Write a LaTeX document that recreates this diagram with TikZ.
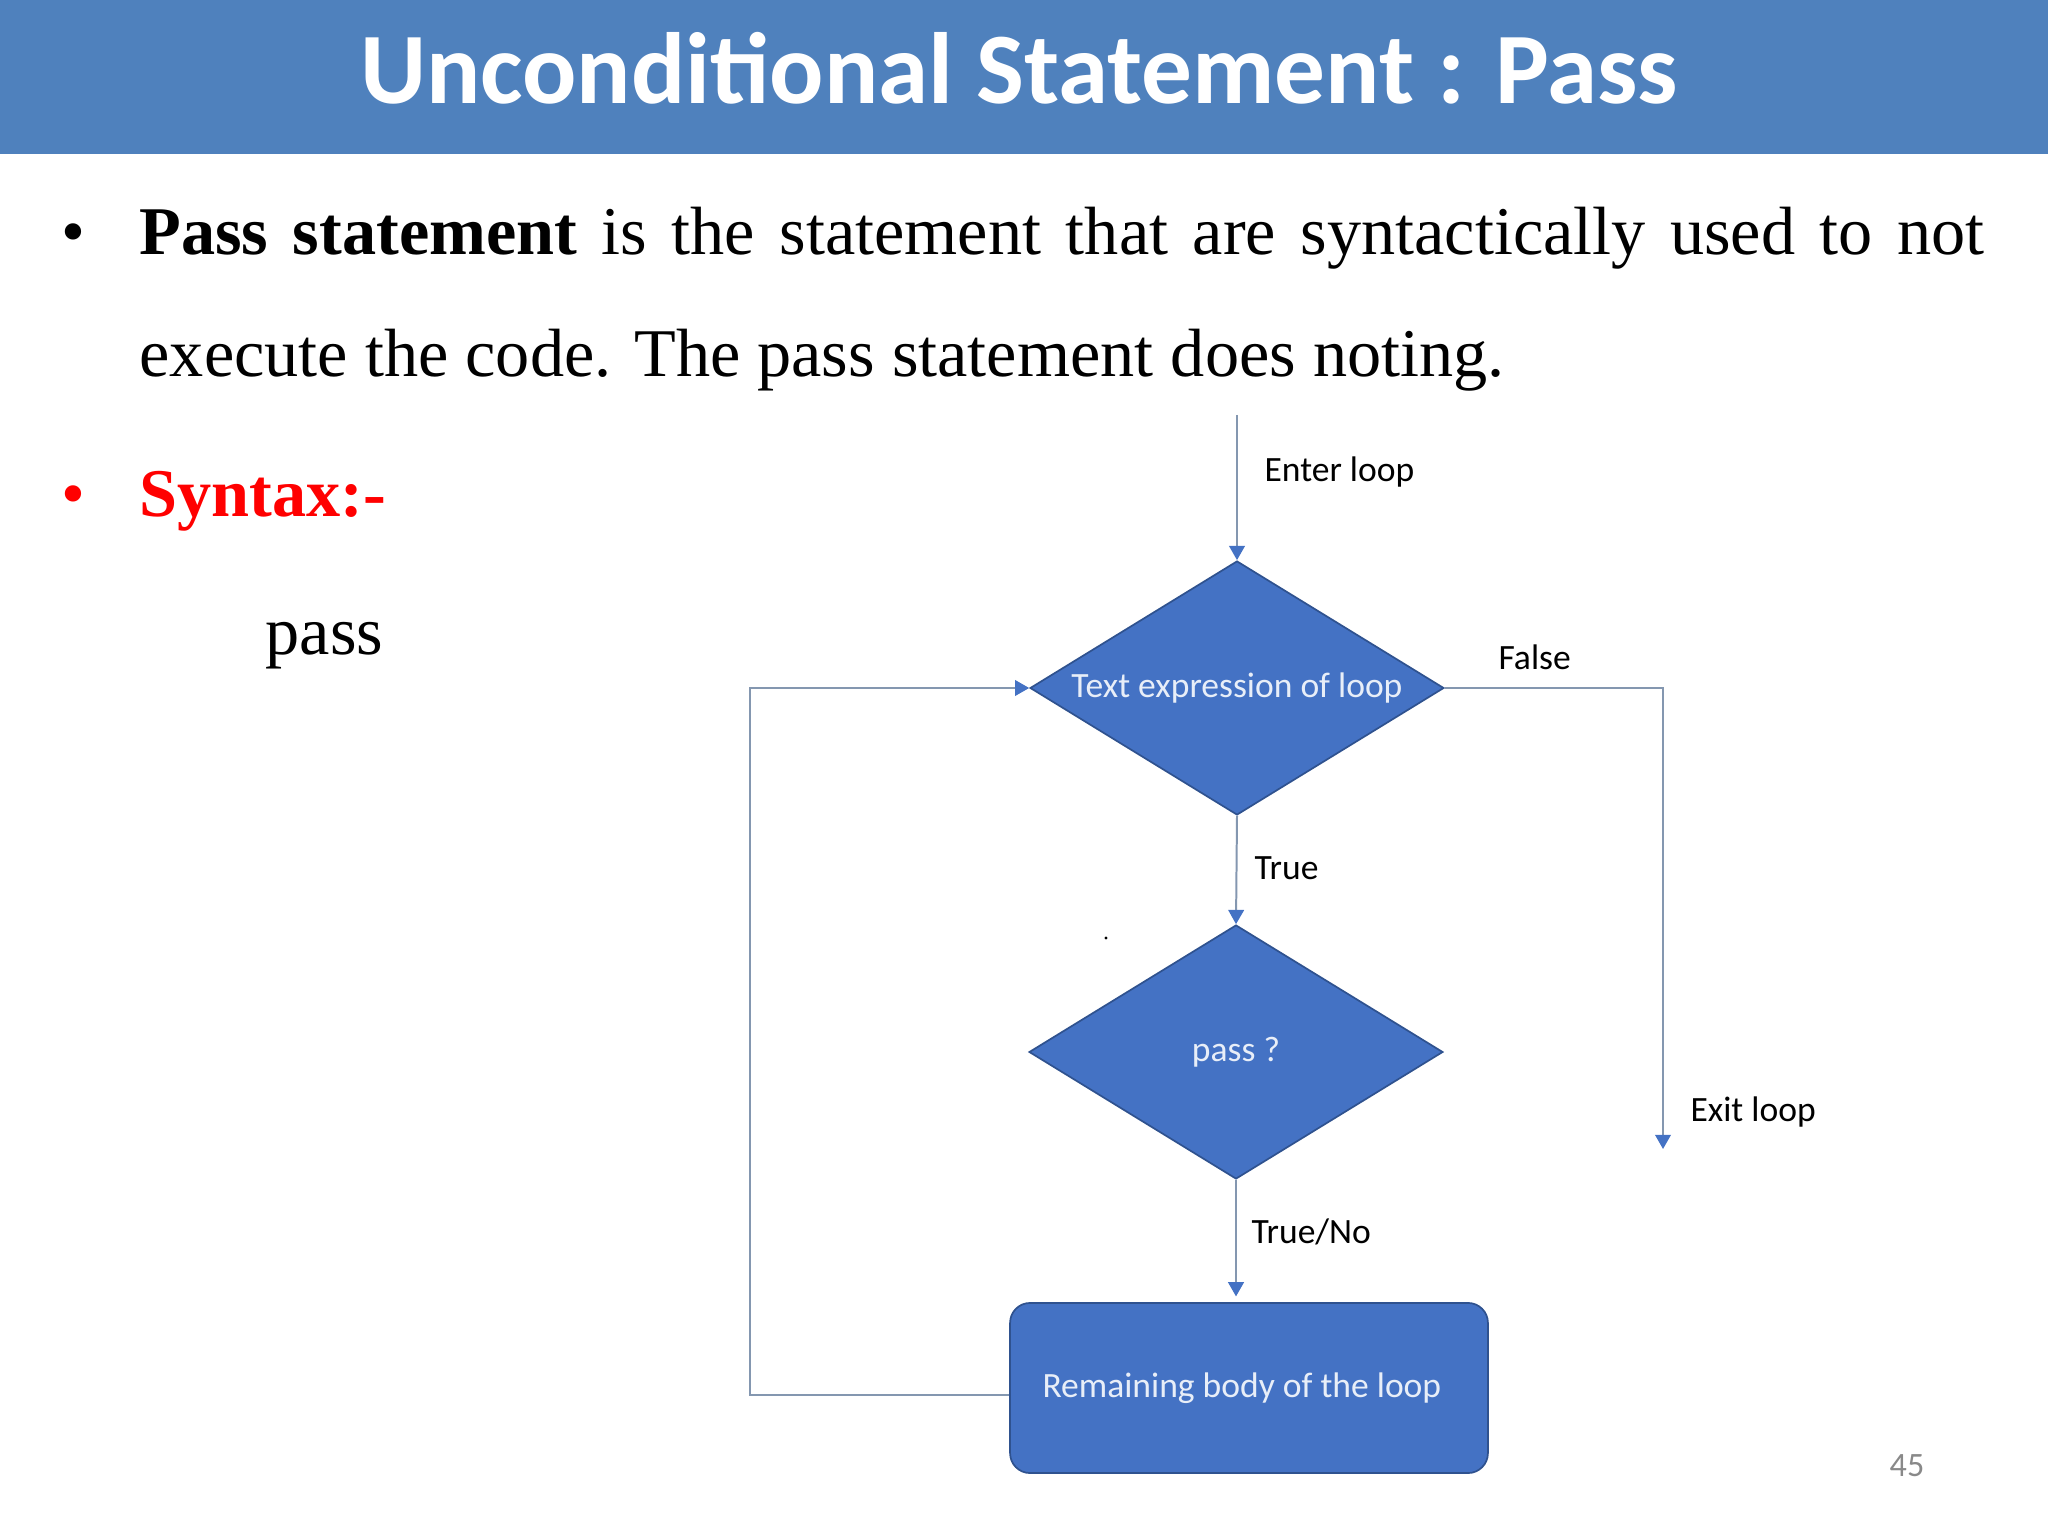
\documentclass[tikz,border=0pt]{standalone}
\usepackage{fontspec}
\setmainfont{Liberation Serif}
\newfontfamily\calibri{Carlito}
\usetikzlibrary{shapes.geometric,arrows.meta,positioning,calc}
\definecolor{slideBlue}{RGB}{79,129,189}
\definecolor{boxBlue}{RGB}{68,114,196}
\definecolor{boxEdge}{RGB}{47,82,143}
\definecolor{lineGray}{RGB}{132,151,176}
\definecolor{boxText}{RGB}{232,238,248}
\definecolor{pageGray}{RGB}{137,137,137}
\definecolor{syntaxRed}{RGB}{255,0,0}

\begin{document}
\begin{tikzpicture}[x=0.3515625pt, y=-0.3515625pt,
    txt/.style={inner sep=0pt, anchor=base west, font=\fontsize{24}{29}\selectfont},
    lbl/.style={inner sep=0pt, anchor=base west, font=\calibri\fontsize{12.5}{15}\selectfont},
    decision/.style={diamond, aspect=1.63, draw=boxEdge, fill=boxBlue, line width=0.6pt,
      minimum width=145.5pt, minimum height=89.3pt, inner sep=0pt, text=boxText,
      font=\calibri\fontsize{12.5}{15}\selectfont},
    process/.style={rectangle, rounded corners=7pt, draw=boxEdge, fill=boxBlue, line width=0.6pt,
      minimum width=168pt, minimum height=59.8pt, text=boxText,
      font=\calibri\fontsize{12.5}{15}\selectfont},
    flow/.style={draw=lineGray, line width=0.7pt, -{Triangle[length=5pt,width=5.5pt,color=boxBlue]}}
  ]
  \useasboundingbox (0,0) rectangle (2048,1536);
  % title band
  \fill[slideBlue] (0,0) rectangle (2048,154);
  \node[inner sep=0pt, anchor=base, text=white, font=\calibri\bfseries\fontsize{35.6}{42}\selectfont]
    (title) at (1019,104) {Unconditional Statement : Pass};

  % bullet text
  \node[txt, anchor=base] (dot1) at (73,255) {\textbullet};
  \node[txt] (line1) at (139,255)
    {\makebox[648.6pt][s]{\textbf{Pass statement} is the statement that are syntactically used to not}};
  \node[txt] (line2) at (139,377) {execute the code. The pass statement does noting.};
  \node[txt, anchor=base, text=syntaxRed] (dot2) at (73,517) {\textbullet};
  \node[txt, text=syntaxRed] (syntax) at (139,517) {\textbf{Syntax:-}};
  \node[txt] (code) at (265,655) {pass};

  % flowchart
  \node[decision] (test) at (1237,688) {Text expression of loop};
  \node[decision] (pass) at (1236,1052) {pass ?};
  \node[process] (body) at (1249,1388) {\hspace*{-5pt}Remaining body of the loop};
  \coordinate (enter) at (1237,415);
  \coordinate (exit) at (1663,1149);

  \draw[flow] (enter) -- (test.north);
  \draw[flow] (test.south) -- (pass.north);
  \draw[flow, shorten >=2pt] (pass.south) -- (pass.south |- body.north);
  \draw[flow] (test.east) -| (exit);
  \draw[flow] ([yshift=-2.5pt]body.west) -- ++(-259,0) |- (test.west);

  \node[lbl] (enterlbl) at (1264,482) {Enter loop};
  \node[lbl] (falselbl) at (1498,669) {False};
  \node[lbl] (truelbl) at (1254,879) {True};
  \node[lbl] (truenolbl) at (1251,1243) {True/No};
  \node[lbl] (exitlbl) at (1690,1121) {Exit loop};
  \fill (1106,938) circle (0.6pt);

  % page number
  \node[inner sep=0pt, anchor=base, text=pageGray, font=\calibri\fontsize{12}{14}\selectfont]
    (pagenum) at (1907,1476) {45};
\end{tikzpicture}
\end{document}
